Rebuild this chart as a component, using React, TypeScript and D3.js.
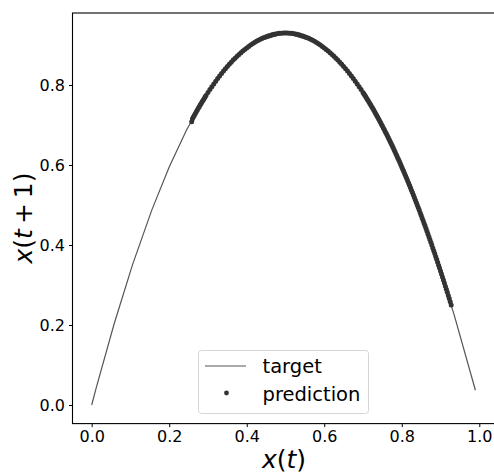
import React, { useRef, useEffect } from 'react'
import * as d3 from 'd3'

// target curve
const target: [number, number][] = [
  [0, 0], [0.012, 0.044], [0.058, 0.2032], [0.105, 0.3496], [0.155, 0.4872],
  [0.2, 0.5952], [0.245, 0.6881], [0.3, 0.7812], [0.36, 0.8571], [0.42, 0.9062],
  [0.5, 0.93], [0.58, 0.9062], [0.64, 0.8571], [0.7, 0.7812], [0.76, 0.6785],
  [0.82, 0.5491], [0.88, 0.3928], [0.935, 0.2261], [0.99, 0.0368],
]

// predicted points (dense band along the curve)
const prediction: [number, number][] = [
  [0.258, 0.708], [0.26, 0.7157], [0.2625, 0.7202], [0.265, 0.7246], [0.2675, 0.7289],
  [0.27, 0.7332], [0.2725, 0.7375], [0.275, 0.7417], [0.2775, 0.7458], [0.28, 0.75],
  [0.2825, 0.754], [0.285, 0.758], [0.2875, 0.762], [0.29, 0.7659], [0.2925, 0.7698],
  [0.295, 0.7737], [0.3, 0.7812], [0.305, 0.7885],
  [0.31, 0.7957], [0.315, 0.8027], [0.32, 0.8095], [0.325, 0.8161], [0.33, 0.8225],
  [0.335, 0.8287], [0.34, 0.8348], [0.345, 0.8406], [0.35, 0.8463], [0.355, 0.8518],
  [0.36, 0.8571], [0.365, 0.8622], [0.37, 0.8671], [0.375, 0.8719], [0.38, 0.8764],
  [0.385, 0.8808], [0.39, 0.885], [0.395, 0.889], [0.4, 0.8928], [0.405, 0.8964],
  [0.41, 0.8999], [0.415, 0.9031], [0.42, 0.9062], [0.425, 0.9091], [0.43, 0.9118],
  [0.435, 0.9143], [0.44, 0.9166], [0.445, 0.9187], [0.45, 0.9207], [0.455, 0.9225],
  [0.46, 0.924], [0.465, 0.9254], [0.47, 0.9267], [0.475, 0.9277], [0.48, 0.9285],
  [0.485, 0.9292], [0.49, 0.9296], [0.495, 0.9299], [0.5, 0.93], [0.505, 0.9299],
  [0.51, 0.9296], [0.515, 0.9292], [0.52, 0.9285], [0.525, 0.9277], [0.53, 0.9267],
  [0.535, 0.9254], [0.54, 0.924], [0.545, 0.9225], [0.55, 0.9207], [0.555, 0.9187],
  [0.56, 0.9166], [0.565, 0.9143], [0.57, 0.9118], [0.575, 0.9091], [0.58, 0.9062],
  [0.585, 0.9031], [0.59, 0.8999], [0.595, 0.8964], [0.6, 0.8928], [0.605, 0.889],
  [0.61, 0.885], [0.615, 0.8808], [0.62, 0.8764], [0.625, 0.8719], [0.63, 0.8671],
  [0.635, 0.8622], [0.64, 0.8571], [0.645, 0.8518], [0.65, 0.8463], [0.655, 0.8406],
  [0.66, 0.8348], [0.665, 0.8287], [0.67, 0.8225], [0.675, 0.8161], [0.68, 0.8095],
  [0.685, 0.8027], [0.69, 0.7957], [0.695, 0.7885], [0.7, 0.7812], [0.7025, 0.7775],
  [0.705, 0.7737], [0.7075, 0.7698], [0.71, 0.7659], [0.7125, 0.762], [0.715, 0.758],
  [0.7175, 0.754], [0.72, 0.75], [0.7225, 0.7458], [0.725, 0.7417], [0.7275, 0.7375],
  [0.73, 0.7332], [0.7325, 0.7289], [0.735, 0.7246], [0.7375, 0.7202], [0.74, 0.7157],
  [0.7425, 0.7112], [0.745, 0.7067], [0.7475, 0.7021], [0.75, 0.6975], [0.7525, 0.6928],
  [0.755, 0.6881], [0.7575, 0.6833], [0.76, 0.6785], [0.7625, 0.6737], [0.765, 0.6688],
  [0.7675, 0.6638], [0.77, 0.6588], [0.7725, 0.6538], [0.775, 0.6487], [0.7775, 0.6435],
  [0.78, 0.6384], [0.7825, 0.6331], [0.785, 0.6278], [0.7875, 0.6225], [0.79, 0.6171],
  [0.7925, 0.6117], [0.795, 0.6063], [0.7975, 0.6008], [0.8, 0.5952], [0.8025, 0.5896],
  [0.805, 0.5839], [0.8075, 0.5782], [0.81, 0.5725], [0.8125, 0.5667], [0.815, 0.5609],
  [0.8175, 0.555], [0.82, 0.5491], [0.8225, 0.5431], [0.825, 0.5371], [0.8275, 0.531],
  [0.83, 0.5249], [0.8325, 0.5187], [0.835, 0.5125], [0.8375, 0.5063], [0.84, 0.5],
  [0.8425, 0.4936], [0.845, 0.4872], [0.8475, 0.4808], [0.85, 0.4743], [0.8525, 0.4678],
  [0.855, 0.4612], [0.8575, 0.4546], [0.86, 0.4479], [0.8625, 0.4412], [0.865, 0.4344],
  [0.8675, 0.4276], [0.87, 0.4207], [0.8725, 0.4138], [0.875, 0.4069], [0.8775, 0.3999],
  [0.88, 0.3928], [0.8825, 0.3857], [0.885, 0.3786], [0.8875, 0.3714], [0.89, 0.3642],
  [0.8925, 0.3569], [0.895, 0.3496], [0.8975, 0.3422], [0.9, 0.3348], [0.9025, 0.3273],
  [0.905, 0.3198], [0.9075, 0.3123], [0.91, 0.3047], [0.9125, 0.297], [0.915, 0.2893],
  [0.9175, 0.2816], [0.92, 0.2738], [0.9225, 0.266], [0.925, 0.2581], [0.9275, 0.2501],
]

const xTicks = [0, 0.2, 0.4, 0.6, 0.8, 1.0]
const yTicks = [0, 0.2, 0.4, 0.6, 0.8]
const legendItems = ['target', 'prediction']

export default function App() {
  const ref = useRef<SVGSVGElement>(null)

  useEffect(() => {
    document.body.style.margin = '0'
    const svg = d3.select(ref.current)
    svg.selectAll('*').remove()

    const font = 'DejaVu Sans, sans-serif'
    const x = d3.scaleLinear().domain([-0.0495, 1.0395]).range([72.5, 494.6])
    const y = d3.scaleLinear().domain([-0.0465, 0.98]).range([423.6, 13])

    const line = d3
      .line<[number, number]>()
      .x((d) => x(d[0]))
      .y((d) => y(d[1]))

    svg
      .append('path')
      .datum(target)
      .attr('fill', 'none')
      .attr('stroke', '#555')
      .attr('stroke-width', 1.2)
      .attr('d', line)

    svg
      .append('g')
      .selectAll('circle')
      .data(prediction)
      .join('circle')
      .attr('cx', (d) => x(d[0]))
      .attr('cy', (d) => y(d[1]))
      .attr('r', 2.5)
      .attr('fill', '#333')

    // spines
    svg
      .append('rect')
      .attr('x', x.range()[0])
      .attr('y', y.range()[1])
      .attr('width', x.range()[1] - x.range()[0])
      .attr('height', y.range()[0] - y.range()[1])
      .attr('fill', 'none')
      .attr('stroke', '#000')
      .attr('stroke-width', 1.1)

    const xAxis = d3.axisBottom(x).tickValues(xTicks).tickFormat(d3.format('.1f')).tickSize(3.5).tickPadding(4)
    const xg = svg
      .append('g')
      .attr('transform', `translate(0,${y.range()[0]})`)
      .call(xAxis)
    xg.select('.domain').remove()
    xg.selectAll('text').attr('font-size', 16).attr('font-family', font).attr('fill', '#000')

    const yAxis = d3.axisLeft(y).tickValues(yTicks).tickFormat(d3.format('.1f')).tickSize(3.5).tickPadding(4)
    const yg = svg
      .append('g')
      .attr('transform', `translate(${x.range()[0]},0)`)
      .call(yAxis)
    yg.select('.domain').remove()
    yg.selectAll('text').attr('font-size', 16).attr('font-family', font).attr('fill', '#000')

    // axis labels
    const xl = svg
      .append('text')
      .attr('x', 284)
      .attr('y', 468)
      .attr('text-anchor', 'middle')
      .attr('font-size', 25)
      .attr('font-family', font)
    xl.append('tspan').attr('font-style', 'italic').text('x')
    xl.append('tspan').text('(')
    xl.append('tspan').attr('font-style', 'italic').text('t')
    xl.append('tspan').text(')')

    const yl = svg
      .append('text')
      .attr('transform', 'translate(32,218) rotate(-90)')
      .attr('text-anchor', 'middle')
      .attr('font-size', 25)
      .attr('font-family', font)
    yl.append('tspan').attr('font-style', 'italic').text('x')
    yl.append('tspan').text('(')
    yl.append('tspan').attr('font-style', 'italic').text('t')
    yl.append('tspan').text('\u2009+\u20091)')

    // legend
    const lg = svg.append('g')
    lg.append('rect')
      .attr('x', 198.5)
      .attr('y', 350.5)
      .attr('width', 170)
      .attr('height', 63)
      .attr('rx', 3)
      .attr('fill', 'rgba(255,255,255,0.8)')
      .attr('stroke', '#d5d5d5')
    lg.append('line')
      .attr('x1', 205)
      .attr('x2', 246)
      .attr('y1', 366)
      .attr('y2', 366)
      .attr('stroke', '#555')
      .attr('stroke-width', 1.2)
    lg.append('circle').attr('cx', 226.5).attr('cy', 393).attr('r', 2.4).attr('fill', '#333')
    lg.selectAll('text.item')
      .data(legendItems)
      .join('text')
      .attr('class', 'item')
      .attr('x', 262.5)
      .attr('y', (d, i) => 373 + i * 27.5)
      .attr('font-size', 19.5)
      .attr('font-family', font)
      .text((d) => d)
  }, [])

  return <svg ref={ref} width={494} height={473} style={{ display: 'block', background: '#fff' }} />
}
